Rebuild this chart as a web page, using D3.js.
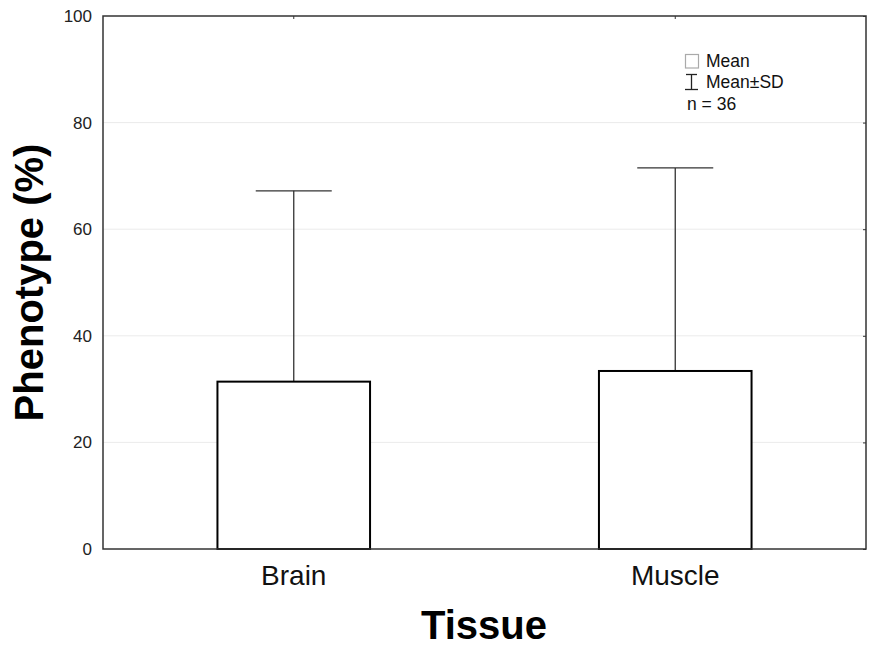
<!DOCTYPE html>
<html>
<head>
<meta charset="utf-8">
<script src="https://cdn.jsdelivr.net/npm/d3@7"></script>
<style>
  body { margin: 0; background: #fff; }
  svg { font-family: "Liberation Sans", Arial, sans-serif; }
</style>
</head>
<body>
<svg></svg>
<script>
// data
const categories = ["Brain", "Muscle"];
const means = [31.4, 33.4];
const upperSD = [67.2, 71.5];
const yTicks = [0, 20, 40, 60, 80, 100];
const legendItems = ["Mean", "Mean±SD"];
const nLabel = "n = 36";

const width = 872;
const height = 654;
const margin = { top: 16, right: 6, bottom: 105, left: 103 };
const innerW = width - margin.left - margin.right;
const innerH = height - margin.top - margin.bottom;

const svg = d3.select("svg")
    .attr("width", width)
    .attr("height", height);

const g = svg.append("g")
    .attr("transform", `translate(${margin.left},${margin.top})`);

const x = d3.scaleBand()
    .domain(categories)
    .range([0, innerW])
    .paddingInner(0.6)
    .paddingOuter(0.3);

const y = d3.scaleLinear()
    .domain([0, 100])
    .range([innerH, 0]);

// gridlines
g.append("g")
    .selectAll("line")
    .data(yTicks.filter(d => d > 0 && d < 100))
    .enter().append("line")
    .attr("x1", 0)
    .attr("x2", innerW)
    .attr("y1", d => y(d))
    .attr("y2", d => y(d))
    .attr("stroke", "#ebebeb")
    .attr("stroke-width", 1);

// error bars (drawn first, bar covers lower part)
const capHalf = 38;
const err = g.append("g");
err.selectAll("line.v")
    .data(categories)
    .enter().append("line")
    .attr("class", "v")
    .attr("x1", d => x(d) + x.bandwidth() / 2)
    .attr("x2", d => x(d) + x.bandwidth() / 2)
    .attr("y1", (d, i) => y(means[i]))
    .attr("y2", (d, i) => y(upperSD[i]))
    .attr("stroke", "#333")
    .attr("stroke-width", 1.3);
err.selectAll("line.cap")
    .data(categories)
    .enter().append("line")
    .attr("class", "cap")
    .attr("x1", d => x(d) + x.bandwidth() / 2 - capHalf)
    .attr("x2", d => x(d) + x.bandwidth() / 2 + capHalf)
    .attr("y1", (d, i) => y(upperSD[i]))
    .attr("y2", (d, i) => y(upperSD[i]))
    .attr("stroke", "#333")
    .attr("stroke-width", 1.3);

// bars
g.append("g")
    .selectAll("rect")
    .data(categories)
    .enter().append("rect")
    .attr("x", d => x(d))
    .attr("y", (d, i) => y(means[i]))
    .attr("width", x.bandwidth())
    .attr("height", (d, i) => innerH - y(means[i]))
    .attr("fill", "#fff")
    .attr("stroke", "#000")
    .attr("stroke-width", 2);

// left axis (labels only)
const yAxis = g.append("g")
    .call(d3.axisLeft(y).tickValues(yTicks).tickSize(0).tickPadding(11));
yAxis.select(".domain").remove();
yAxis.selectAll("text")
    .attr("font-size", 17)
    .attr("fill", "#222")
    .attr("font-family", "Liberation Sans, Arial, sans-serif");

// right axis ticks (inward)
const yRight = g.append("g")
    .attr("transform", `translate(${innerW},0)`)
    .call(d3.axisLeft(y).tickValues(yTicks).tickSize(3).tickFormat(""));
yRight.select(".domain").remove();
yRight.selectAll("line").attr("stroke", "#333");

// bottom axis labels
const xAxis = g.append("g")
    .attr("transform", `translate(0,${innerH})`)
    .call(d3.axisBottom(x).tickSize(0).tickPadding(16));
xAxis.select(".domain").remove();
xAxis.selectAll("text")
    .attr("font-size", 28)
    .attr("fill", "#111")
    .attr("font-family", "Liberation Sans, Arial, sans-serif");

// top axis ticks (inward)
const xTop = g.append("g")
    .call(d3.axisBottom(x).tickSize(3).tickFormat(""));
xTop.select(".domain").remove();
xTop.selectAll("line").attr("stroke", "#333");

// frame
g.append("rect")
    .attr("x", 0)
    .attr("y", 0)
    .attr("width", innerW)
    .attr("height", innerH)
    .attr("fill", "none")
    .attr("stroke", "#333")
    .attr("stroke-width", 1.5);

// axis titles
svg.append("text")
    .attr("transform", "translate(43,282.5) rotate(-90)")
    .attr("text-anchor", "middle")
    .attr("font-size", 40)
    .attr("font-weight", "bold")
    .attr("fill", "#000")
    .text("Phenotype (%)");

svg.append("text")
    .attr("x", 484)
    .attr("y", 639)
    .attr("text-anchor", "middle")
    .attr("font-size", 40)
    .attr("font-weight", "bold")
    .attr("fill", "#000")
    .text("Tissue");

// legend
const leg = svg.append("g").attr("transform", "translate(685,0)");
leg.append("rect")
    .attr("x", 0.5)
    .attr("y", 54.5)
    .attr("width", 13)
    .attr("height", 13.5)
    .attr("fill", "#fff")
    .attr("stroke", "#aaa")
    .attr("stroke-width", 1.2);
leg.append("line").attr("x1", 6.5).attr("x2", 6.5).attr("y1", 74.5).attr("y2", 89.5)
    .attr("stroke", "#222").attr("stroke-width", 1.3);
leg.append("line").attr("x1", 1).attr("x2", 12).attr("y1", 74.5).attr("y2", 74.5)
    .attr("stroke", "#222").attr("stroke-width", 1.3);
leg.append("line").attr("x1", 0).attr("x2", 13).attr("y1", 89.5).attr("y2", 89.5)
    .attr("stroke", "#222").attr("stroke-width", 1.3);
leg.selectAll("text.item")
    .data(legendItems)
    .enter().append("text")
    .attr("class", "item")
    .attr("x", 21)
    .attr("y", (d, i) => 66.7 + i * 21.7)
    .attr("font-size", 17.5)
    .attr("fill", "#111")
    .text(d => d);
leg.append("text")
    .attr("x", 2)
    .attr("y", 110)
    .attr("font-size", 17.5)
    .attr("fill", "#111")
    .text(nLabel);
</script>
</body>
</html>
